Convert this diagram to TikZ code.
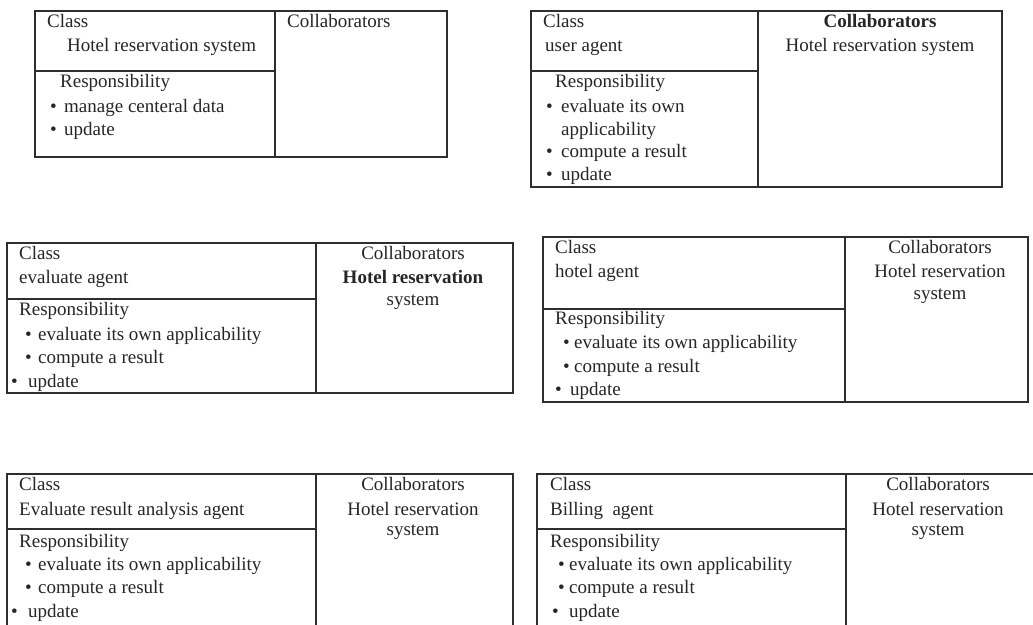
\documentclass[tikz,border=0pt]{standalone}
\usepackage{fontspec}
\setmainfont{Liberation Serif}
\definecolor{linecol}{HTML}{2E2E2E}
\definecolor{txtcol}{HTML}{262626}
\newcommand{\cardfont}{\fontsize{19}{23}\selectfont}
\tikzset{
  frame/.style={draw=linecol, line width=1.3pt},
  rule/.style={draw=linecol, line width=1.3pt},
  txt/.style={anchor=base west, inner sep=0pt, text=txtcol, font=\cardfont},
  ctr/.style={anchor=base, inner sep=0pt, text=txtcol, font=\cardfont},
  bul/.style={anchor=base west, inner sep=0pt, text=txtcol, font=\cardfont},
}
\begin{document}
\begin{tikzpicture}[x=1pt, y=-1pt]
\useasboundingbox (0,0) rectangle (1033,624);
\fill[white] (0,0) rectangle (1033,624);
\clip (0,0) rectangle (1033,624);

% ---- Card 1: Hotel reservation system ----
\draw[frame] (35,11) rectangle (447,157);
\draw[rule] (275,11) -- (275,157);
\draw[rule] (35,71) -- (275,71);
\node[txt] (c1class) at (47,27) {Class};
\node[txt] (c1name) at (67,51) {Hotel reservation system};
\node[txt] (c1resp) at (60,87) {Responsibility};
\node[bul] (c1b1) at (50,112) {•};
\node[txt] (c1r1) at (64,112) {manage centeral data};
\node[bul] (c1b2) at (50,135) {•};
\node[txt] (c1r2) at (64,135) {update};
\node[txt] (c1coll) at (287,27) {Collaborators};

% ---- Card 2: user agent ----
\draw[frame] (531,11) rectangle (1002,187);
\draw[rule] (758,11) -- (758,187);
\draw[rule] (531,71) -- (758,71);
\node[txt] (c2class) at (543,27) {Class};
\node[txt] (c2name) at (545,51) {user agent};
\node[txt] (c2resp) at (555,87) {Responsibility};
\node[bul] (c2b1) at (546,112) {•};
\node[txt] (c2r1) at (561,112) {evaluate its own};
\node[txt] (c2r1b) at (561,135) {applicability};
\node[bul] (c2b2) at (546,157) {•};
\node[txt] (c2r2) at (561,157) {compute a result};
\node[bul] (c2b3) at (546,180) {•};
\node[txt] (c2r3) at (561,180) {update};
\node[ctr, font=\cardfont\bfseries] (c2coll) at (880,27) {Collaborators};
\node[ctr] (c2c1) at (880,51) {Hotel reservation system};

% ---- Card 3: evaluate agent ----
\draw[frame] (7,243) rectangle (513,393);
\draw[rule] (316,243) -- (316,393);
\draw[rule] (7,299) -- (316,299);
\node[txt] (c3class) at (19,259) {Class};
\node[txt] (c3name) at (19,283) {evaluate agent};
\node[txt] (c3resp) at (19,315) {Responsibility};
\node[bul] (c3b1) at (25,340) {•};
\node[txt] (c3r1) at (38,340) {evaluate its own applicability};
\node[bul] (c3b2) at (25,363) {•};
\node[txt] (c3r2) at (38,363) {compute a result};
\node[bul] (c3b3) at (11,387) {•};
\node[txt] (c3r3) at (28,387) {update};
\node[ctr] (c3coll) at (413,259) {Collaborators};
\node[ctr, font=\cardfont\bfseries] (c3c1) at (413,283) {Hotel reservation};
\node[ctr] (c3c2) at (413,305) {system};

% ---- Card 4: hotel agent ----
\draw[frame] (543,237) rectangle (1028,402);
\draw[rule] (845,237) -- (845,402);
\draw[rule] (543,309) -- (845,309);
\node[txt] (c4class) at (555,253) {Class};
\node[txt] (c4name) at (555,277) {hotel agent};
\node[txt] (c4resp) at (555,324) {Responsibility};
\node[bul] (c4b1) at (563,348) {•};
\node[txt] (c4r1) at (574,348) {evaluate its own applicability};
\node[bul] (c4b2) at (563,372) {•};
\node[txt] (c4r2) at (574,372) {compute a result};
\node[bul] (c4b3) at (555,395) {•};
\node[txt] (c4r3) at (570,395) {update};
\node[ctr] (c4coll) at (940,253) {Collaborators};
\node[ctr] (c4c1) at (940,277) {Hotel reservation};
\node[ctr] (c4c2) at (940,299) {system};

% ---- Card 5: Evaluate result analysis agent ----
\draw[frame] (7,474) rectangle (513,640);
\draw[rule] (316,474) -- (316,640);
\draw[rule] (7,529) -- (316,529);
\node[txt] (c5class) at (19,490) {Class};
\node[txt] (c5name) at (19,515) {Evaluate result analysis agent};
\node[txt] (c5resp) at (19,547) {Responsibility};
\node[bul] (c5b1) at (25,570) {•};
\node[txt] (c5r1) at (38,570) {evaluate its own applicability};
\node[bul] (c5b2) at (25,593) {•};
\node[txt] (c5r2) at (38,593) {compute a result};
\node[bul] (c5b3) at (11,617) {•};
\node[txt] (c5r3) at (28,617) {update};
\node[ctr] (c5coll) at (413,490) {Collaborators};
\node[ctr] (c5c1) at (413,515) {Hotel reservation};
\node[ctr] (c5c2) at (413,535) {system};

% ---- Card 6: Billing agent ----
\draw[frame] (537,474) rectangle (1045,640);
\draw[rule] (846,474) -- (846,640);
\draw[rule] (537,529) -- (846,529);
\node[txt] (c6class) at (550,490) {Class};
\node[txt] (c6name) at (550,515) {Billing\ \ agent};
\node[txt] (c6resp) at (550,547) {Responsibility};
\node[bul] (c6b1) at (558,570) {•};
\node[txt] (c6r1) at (569,570) {evaluate its own applicability};
\node[bul] (c6b2) at (558,593) {•};
\node[txt] (c6r2) at (569,593) {compute a result};
\node[bul] (c6b3) at (552,617) {•};
\node[txt] (c6r3) at (569,617) {update};
\node[ctr] (c6coll) at (938,490) {Collaborators};
\node[ctr] (c6c1) at (938,515) {Hotel reservation};
\node[ctr] (c6c2) at (938,535) {system};
\end{tikzpicture}
\end{document}
